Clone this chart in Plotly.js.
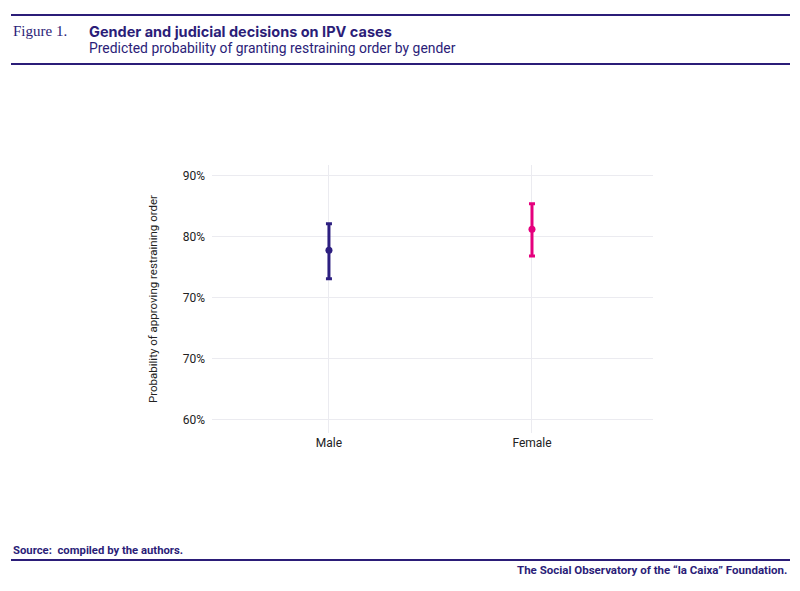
<!DOCTYPE html>
<html>
<head>
<meta charset="utf-8">
<script src="https://cdn.plot.ly/plotly-3.0.1.min.js"></script>
<style>
  html, body { margin: 0; padding: 0; background: #fff; }
  #chart { width: 800px; height: 591px; }
</style>
</head>
<body>
<div id="chart"></div>
<script>
// predicted probabilities with confidence interval
var genders = ["Male", "Female"];
var predicted = [0.8087, 0.8345];
var ci_low = [0.7737, 0.8016];
var ci_high = [0.8414, 0.8659];
var colors = ["#2d1f80", "#e5007d"];

// tick labels as printed in the original figure
var tick_vals = [0.6, 0.675, 0.75, 0.825, 0.9];
var tick_text = ["60%", "70%", "70%", "80%", "90%"];

var navy = "#2b1d78";

var traces = genders.map(function (g, i) {
  return {
    x: [g],
    y: [predicted[i]],
    type: 'scatter',
    mode: 'markers',
    marker: { color: colors[i], size: 7 },
    error_y: {
      type: 'data',
      symmetric: false,
      array: [ci_high[i] - predicted[i]],
      arrayminus: [predicted[i] - ci_low[i]],
      color: colors[i],
      thickness: 3,
      width: 3
    },
    showlegend: false,
    hoverinfo: 'x+y'
  };
});

var hline = function (y, x0, x1) {
  return {
    type: 'line', xref: 'paper', yref: 'paper',
    x0: x0, x1: x1, y0: y, y1: y,
    line: { color: navy, width: 2 }
  };
};

// paper coords for the header/footer, plot spans px 212..653 x 165..433
var px = function (x) { return (x - 212) / 441; };
var py = function (y) { return (433 - y) / 268; };

var layout = {
  width: 800,
  height: 591,
  margin: { l: 212, r: 147, t: 165, b: 158 },
  paper_bgcolor: '#fff',
  plot_bgcolor: '#fff',
  font: { family: 'Roboto, "Liberation Sans", sans-serif', color: '#222', size: 12 },
  xaxis: {
    type: 'category',
    range: [-0.576, 1.596],
    showgrid: true,
    gridcolor: '#ebebf0',
    gridwidth: 1,
    zeroline: false,
    showline: false,
    ticks: '',
    ticklabelstandoff: 1,
    tickfont: { size: 12, color: '#222' }
  },
  yaxis: {
    range: [0.584, 0.9135],
    tickvals: tick_vals,
    ticktext: tick_text,
    showgrid: true,
    gridcolor: '#ebebf0',
    gridwidth: 1,
    zeroline: false,
    showline: false,
    ticks: '',
    ticklabelstandoff: 6,
    tickfont: { size: 12, color: '#222' },
    title: {
      text: 'Probability of approving restraining order',
      font: { size: 11.5, color: '#222' },
      standoff: 22
    }
  },
  shapes: [
    hline(py(15), px(11), px(790)),
    hline(py(64), px(11), px(790)),
    hline(py(560), px(11), px(790))
  ],
  annotations: [
    {
      text: 'Figure 1.', xref: 'paper', yref: 'paper',
      x: px(11), y: py(31), xanchor: 'left', yanchor: 'middle', showarrow: false,
      font: { family: '"Liberation Serif", "DejaVu Serif", serif', size: 15, color: navy }
    },
    {
      text: '<b>Gender and judicial decisions on IPV cases</b>', xref: 'paper', yref: 'paper',
      x: px(87), y: py(31), xanchor: 'left', yanchor: 'middle', showarrow: false,
      font: { family: 'Inter, Roboto, sans-serif', size: 14.5, color: navy }
    },
    {
      text: 'Predicted probability of granting restraining order by gender', xref: 'paper', yref: 'paper',
      x: px(87), y: py(48), xanchor: 'left', yanchor: 'middle', showarrow: false,
      font: { family: '"Roboto", sans-serif', size: 13.9, color: navy }
    },
    {
      text: '<b>Source:  compiled by the authors.</b>', xref: 'paper', yref: 'paper',
      x: px(11), y: py(550), xanchor: 'left', yanchor: 'middle', showarrow: false,
      font: { family: 'Roboto, sans-serif', size: 11.3, color: navy }
    },
    {
      text: '<b>The Social Observatory of the \u201cla Caixa\u201d Foundation.</b>', xref: 'paper', yref: 'paper',
      x: px(789), y: py(570), xanchor: 'right', yanchor: 'middle', showarrow: false,
      font: { family: 'Roboto, sans-serif', size: 11.5, color: navy }
    }
  ]
};

Plotly.newPlot('chart', traces, layout, { displayModeBar: false, staticPlot: true });
</script>
</body>
</html>
